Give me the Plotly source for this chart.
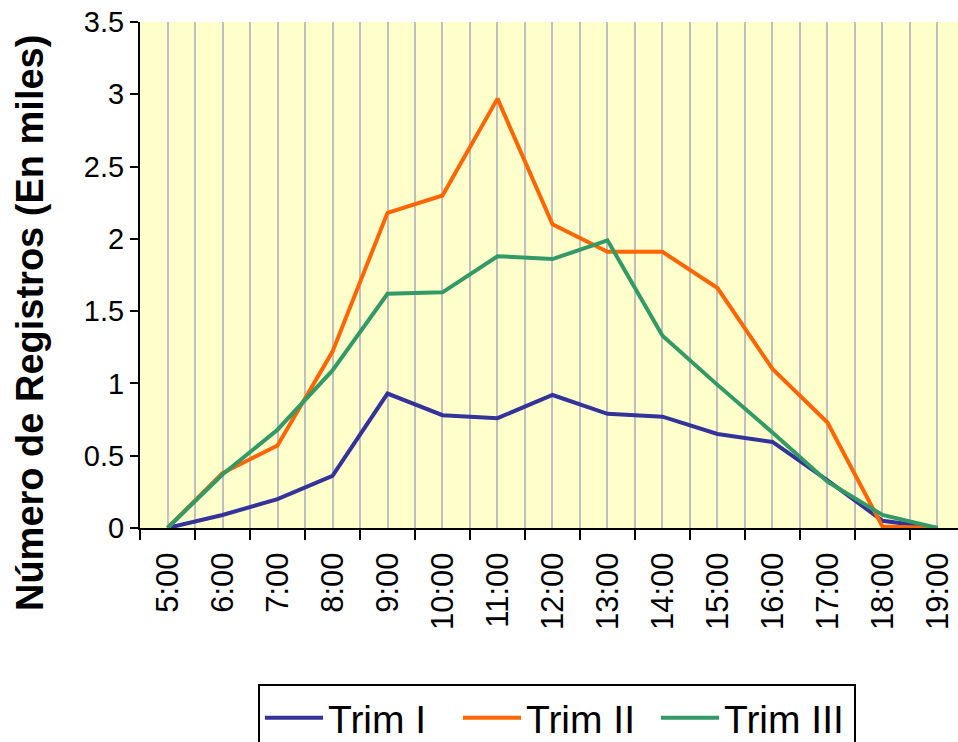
import plotly.graph_objects as go

# Horas del día (categorías del eje X)
horas = ["5:00", "6:00", "7:00", "8:00", "9:00", "10:00", "11:00", "12:00",
         "13:00", "14:00", "15:00", "16:00", "17:00", "18:00", "19:00"]

# Número de registros en miles por trimestre
trim_1 = [0.0, 0.09, 0.20, 0.36, 0.93, 0.78, 0.76, 0.92, 0.79, 0.77, 0.65, 0.595, 0.33, 0.05, 0.0]
trim_2 = [0.0, 0.38, 0.57, 1.22, 2.18, 2.30, 2.97, 2.10, 1.91, 1.91, 1.66, 1.10, 0.73, 0.01, 0.0]
trim_3 = [0.0, 0.37, 0.68, 1.09, 1.62, 1.63, 1.88, 1.86, 1.99, 1.33, 0.99, 0.66, 0.32, 0.09, 0.0]

series = [
    ("Trim I", trim_1, "#333399"),
    ("Trim II", trim_2, "#FF6600"),
    ("Trim III", trim_3, "#339966"),
]

pos = list(range(len(horas)))

fig = go.Figure()
for nombre, valores, color in series:
    fig.add_trace(go.Scatter(
        x=pos, y=valores, name=nombre, mode="lines",
        line=dict(color=color, width=4),
    ))

FONT = "Liberation Sans, Arial, sans-serif"

fig.update_layout(
    width=958, height=742,
    margin=dict(l=140, r=0, t=22, b=214, autoexpand=False),
    paper_bgcolor="white",
    plot_bgcolor="#FFFFCC",
    font=dict(family=FONT, color="black"),
    showlegend=True,
    legend=dict(
        orientation="h",
        xref="container", yref="container",
        x=258 / 958, y=1 - 684 / 742, xanchor="left", yanchor="top",
        bordercolor="black", borderwidth=2,
        font=dict(size=39, family=FONT),
        itemwidth=58,
        entrywidth=125,
        tracegroupgap=0,
    ),
    xaxis=dict(
        automargin=False,
        range=[-0.5, 14.373],
        tickmode="array", tickvals=pos, ticktext=horas,
        tickangle=-90,
        tickfont=dict(size=31, family=FONT),
        ticks="",
        ticklabelstandoff=10,
        showgrid=True, gridcolor="#C0C0C0", gridwidth=2,
        minor=dict(tick0=0.5, dtick=1, showgrid=True, gridcolor="#C0C0C0",
                   gridwidth=2, ticks="outside", ticklen=10, tickwidth=2,
                   tickcolor="black"),
        showline=True, linecolor="black", linewidth=2,
        zeroline=False,
    ),
    yaxis=dict(
        automargin=False,
        range=[0, 3.5], dtick=0.5, tick0=0,
        tickfont=dict(size=29, family=FONT),
        ticks="outside", ticklen=8, tickwidth=2, tickcolor="black",
        showgrid=False,
        showline=True, linecolor="black", linewidth=2,
        zeroline=False,
    ),
    annotations=[dict(
        text="<b>Número de Registros (En miles)</b>",
        textangle=-90,
        xref="paper", yref="paper",
        x=-0.1345, y=0.405, xanchor="center", yanchor="middle",
        showarrow=False,
        font=dict(size=38, family=FONT, color="black"),
    )],
)

fig.write_html("out.html")
